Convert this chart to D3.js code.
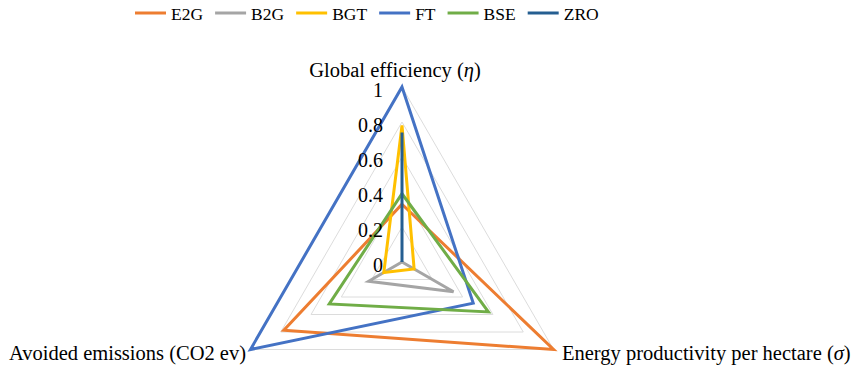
<!DOCTYPE html>
<html><head><meta charset="utf-8"><script src="https://cdn.jsdelivr.net/npm/d3@7"></script></head>
<body style="margin:0">
<svg id="chart" width="858" height="367"></svg>
<script>
// Radar axes (clockwise from the top)
const axes = ["Global efficiency", "Energy productivity per hectare", "Avoided emissions (CO2 ev)"];
const axisSymbols = ["η", "σ", null];

// Series names and normalised values per axis
const seriesNames = ["E2G", "B2G", "BGT", "FT", "BSE", "ZRO"];
const seriesColors = ["#ED7D31", "#A5A5A5", "#FFC000", "#4472C4", "#70AD47", "#255E91"];
const valuesE2G = [0.33, 1.00, 0.78];
const valuesB2G = [0.00, 0.34, 0.22];
const valuesBGT = [0.78, 0.08, 0.12];
const valuesFT  = [1.00, 0.47, 1.00];
const valuesBSE = [0.39, 0.57, 0.48];
const valuesZRO = [0.74, 0.00, 0.00];
const seriesValues = [valuesE2G, valuesB2G, valuesBGT, valuesFT, valuesBSE, valuesZRO];

// Radial tick values and labels
const tickValues = [0, 0.2, 0.4, 0.6, 0.8, 1];
const tickLabels = ["0", "0.2", "0.4", "0.6", "0.8", "1"];

const FONT = '"Liberation Serif"';

const svg = d3.select("#chart");
const cx = 402, cy = 262, radius = 175;

const r = d3.scaleLinear().domain([0, 1]).range([0, radius]);
const angle = d3.scalePoint().domain(d3.range(axes.length)).range([0, 2 * Math.PI * (axes.length - 1) / axes.length]);

const line = d3.lineRadial()
  .angle((d, i) => angle(i))
  .radius(d => r(d))
  .curve(d3.curveLinearClosed);

const g = svg.append("g").attr("transform", `translate(${cx},${cy})`);

// Concentric triangular grid
g.append("g").selectAll("path")
  .data(tickValues.filter(v => v > 0))
  .join("path")
  .attr("d", v => line(axes.map(() => v)))
  .attr("fill", "none")
  .attr("stroke", "#dcdcdc")
  .attr("stroke-width", 1);

// Series polygons
g.append("g").selectAll("path")
  .data(seriesValues)
  .join("path")
  .attr("d", d => line(d))
  .attr("fill", "none")
  .attr("stroke", (d, i) => seriesColors[i])
  .attr("stroke-width", 3)
  .attr("stroke-linejoin", "miter");

// Radial tick labels along the vertical axis
tickValues.forEach((v, i) => {
  g.append("text")
    .attr("x", -19)
    .attr("y", -r(v) + 10)
    .attr("text-anchor", "end")
    .attr("font-size", 20)
    .style("font-family", FONT)
    .text(tickLabels[i]);
});

// Axis titles
function axisTitle(sel, i) {
  sel.append("tspan").text(axes[i] + (axisSymbols[i] ? " (" : ""));
  if (axisSymbols[i]) {
    sel.append("tspan").style("font-style", "italic").text(axisSymbols[i]);
    sel.append("tspan").text(")");
  }
}
svg.append("text")
  .attr("x", cx - 7).attr("y", 77)
  .attr("text-anchor", "middle").attr("font-size", 20.5)
  .style("font-family", FONT)
  .call(axisTitle, 0);
svg.append("text")
  .attr("x", 562).attr("y", 360)
  .attr("text-anchor", "start").attr("font-size", 20.5)
  .style("font-family", FONT)
  .call(axisTitle, 1);
svg.append("text")
  .attr("x", 246).attr("y", 360)
  .attr("text-anchor", "end").attr("font-size", 20.5)
  .style("font-family", FONT)
  .call(axisTitle, 2);

// Legend laid out left to right
const legend = svg.append("g");
let lx = 135;
seriesNames.forEach((name, i) => {
  legend.append("line")
    .attr("x1", lx).attr("x2", lx + 31)
    .attr("y1", 13).attr("y2", 13)
    .attr("stroke", seriesColors[i]).attr("stroke-width", 3);
  const t = legend.append("text")
    .attr("x", lx + 36).attr("y", 20)
    .attr("font-size", 17.5)
    .style("font-family", FONT)
    .text(name);
  lx += 36 + t.node().getComputedTextLength() + 12;
});
</script>
</body>
</html>
